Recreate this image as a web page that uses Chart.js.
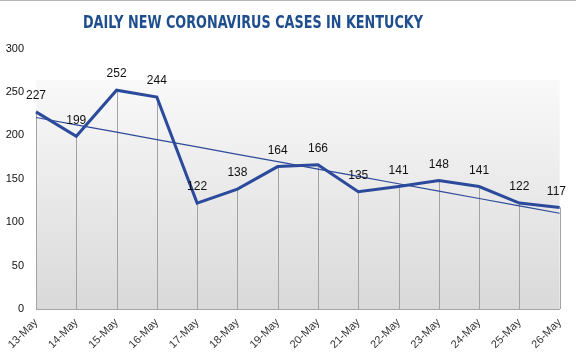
<!DOCTYPE html>
<html>
<head>
<meta charset="utf-8">
<script src="https://cdn.jsdelivr.net/npm/chart.js@4/dist/chart.umd.min.js"></script>
<style>
html,body{margin:0;padding:0;background:#fff;}
#wrap{width:576px;height:359px;position:relative;}
</style>
</head>
<body>
<div id="wrap"><canvas id="c" width="576" height="359"></canvas></div>
<script>
const titleText = 'DAILY NEW CORONAVIRUS CASES IN KENTUCKY';
const categories = ['13-May','14-May','15-May','16-May','17-May','18-May','19-May','20-May','21-May','22-May','23-May','24-May','25-May','26-May'];
const dailyCases = [227,199,252,244,122,138,164,166,135,141,148,141,122,117];
const yTicks = [0,50,100,150,200,250,300];

// Linear trendline (least squares) derived from the data, as Excel draws it
function linearTrend(vals){
  const n = vals.length;
  let sx=0, sy=0, sxy=0, sxx=0;
  vals.forEach((v,i)=>{sx+=i; sy+=v; sxy+=i*v; sxx+=i*i;});
  const b = (n*sxy - sx*sy)/(n*sxx - sx*sx);
  const a = (sy - b*sx)/n;
  return vals.map((v,i)=>a+b*i);
}
const trend = linearTrend(dailyCases);

const bgPlugin = {
  id:'bg',
  beforeDraw(chart){
    const {ctx, chartArea:ca, scales:{y}} = chart;
    ctx.save();
    ctx.fillStyle='#ffffff';
    ctx.fillRect(0,0,chart.width,chart.height);
    ctx.fillStyle='#b4b4b4';
    ctx.fillRect(0,0,chart.width,1);
    const top = Math.round(y.getPixelForValue(264));
    const g = ctx.createLinearGradient(0,top,0,ca.bottom);
    g.addColorStop(0,'#f9f9f9');
    g.addColorStop(1,'#d9d9d9');
    ctx.fillStyle=g;
    ctx.fillRect(ca.left,top,ca.right-ca.left,ca.bottom-top);
    // title
    ctx.fillStyle='#1f4e8f';
    ctx.font='bold 18px "DejaVu Sans Condensed", "Liberation Sans", Arial, sans-serif';
    ctx.textAlign='center';
    ctx.textBaseline='middle';
    ctx.fillText(titleText,253,23,340);
    ctx.restore();
  },
  beforeDatasetsDraw(chart){
    const {ctx, chartArea:ca} = chart;
    const meta = chart.getDatasetMeta(0);
    ctx.save();
    ctx.strokeStyle='#a3a3a3';
    ctx.lineWidth=1;
    meta.data.forEach(p=>{
      const x = Math.round(p.x)+0.5;
      ctx.beginPath();
      ctx.moveTo(x,p.y);
      ctx.lineTo(x,ca.bottom);
      ctx.stroke();
    });
    ctx.restore();
  },
  afterDatasetsDraw(chart){
    const {ctx} = chart;
    const meta = chart.getDatasetMeta(0);
    ctx.save();
    ctx.fillStyle='#111';
    ctx.font='12px "Liberation Sans", Arial, sans-serif';
    ctx.textAlign='center';
    ctx.textBaseline='middle';
    meta.data.forEach((p,i)=>{
      const t = String(dailyCases[i]);
      const w = ctx.measureText(t).width;
      let x = p.x;
      if (x + w/2 > 566) x = 566 - w/2;
      ctx.fillText(t,x,p.y-16);
    });
    ctx.restore();
  }
};

new Chart(document.getElementById('c'),{
  type:'line',
  data:{
    labels:categories,
    datasets:[
      {label:'Daily new cases',data:dailyCases,borderColor:'#2b4a9b',borderWidth:3,pointRadius:0,tension:0,fill:false,order:1},
      {label:'Trend',data:trend,borderColor:'#2e4a9a',borderWidth:1.2,pointRadius:0,tension:0,fill:false,order:2}
    ]
  },
  options:{
    responsive:false,
    animation:false,
    events:[],
    layout:{padding:{top:48.5,right:13,bottom:0,left:0}},
    plugins:{legend:{display:false},title:{display:false},tooltip:{enabled:false}},
    scales:{
      x:{
        type:'category',
        offset:false,
        grid:{display:false,drawTicks:false},
        border:{display:true,color:'#a6a6a6',width:1},
        ticks:{autoSkip:false,minRotation:45,maxRotation:45,padding:7,color:'#333',font:{family:'"Liberation Sans", Arial, sans-serif',size:11}},
        afterFit(s){s.height=50;}
      },
      y:{
        min:0,max:300,
        grid:{display:false,drawTicks:false},
        border:{display:false},
        afterBuildTicks(s){s.ticks=yTicks.map(v=>({value:v}));},
        ticks:{padding:12,color:'#111',font:{family:'"Liberation Sans", Arial, sans-serif',size:11}},
        afterFit(s){s.width=36;}
      }
    }
  },
  plugins:[bgPlugin]
});
</script>
</body>
</html>
